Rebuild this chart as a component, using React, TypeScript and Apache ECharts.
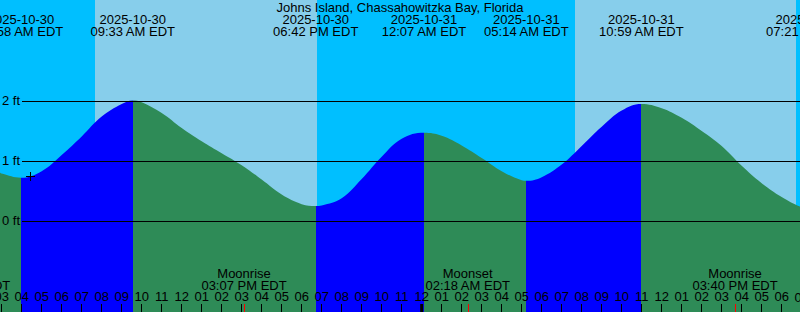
import { useEffect, useRef } from 'react';
import * as echarts from 'echarts';

const TITLE = 'Johns Island, Chassahowitzka Bay, Florida';
const FONT = '"Liberation Sans", Arial, Helvetica, sans-serif';

// time axis: hours since 2025-10-30 00:00 EDT
const X_MIN = 2.915;
const X_MAX = 42.915;
const Y_MIN = -1.517;
const Y_MAX = 3.683;

// tide height readings (ft) at times (hours)
const tideHours = [2.915, 3, 5, 6, 7, 8, 9, 10, 11, 12, 13, 14, 15, 16, 17, 18, 19, 20, 21, 22, 23, 25, 26, 27, 28, 29, 30, 31, 32, 33, 34, 36, 37, 38, 39, 40, 41, 42, 42.915];
const tideFeet = [0.81, 0.79, 0.83, 1.1, 1.41, 1.74, 1.95, 1.98, 1.8, 1.55, 1.33, 1.13, 0.93, 0.69, 0.44, 0.28, 0.26, 0.38, 0.7, 1.07, 1.37, 1.42, 1.26, 1.05, 0.83, 0.68, 0.73, 0.94, 1.25, 1.57, 1.84, 1.88, 1.72, 1.5, 1.25, 0.92, 0.63, 0.4, 0.24];

// high / low tides
const extremeHours = [3.967, 9.55, 18.7, 24.117, 29.233, 34.983, 43.35];
const extremeFeet = [0.72, 2.01, 0.25, 1.47, 0.67, 1.95, 0.2];
const extremeDates = ['2025-10-30', '2025-10-30', '2025-10-30', '2025-10-31', '2025-10-31', '2025-10-31', '2025-10-31'];
const extremeTimes = ['03:58 AM EDT', '09:33 AM EDT', '06:42 PM EDT', '12:07 AM EDT', '05:14 AM EDT', '10:59 AM EDT', '07:21 PM EDT'];

// sun
const sunriseHours = [7.665, 31.665];
const sunsetHours = [18.765, 42.715];

// moon
const moonHours = [1.315, 15.117, 26.3, 39.667];
const moonEvents = ['Moonset', 'Moonrise', 'Moonset', 'Moonrise'];
const moonTimes = ['01:19 AM EDT', '03:07 PM EDT', '02:18 AM EDT', '03:40 PM EDT'];

const midnightHours = [24];
const hourTicks = [3, 4, 5, 6, 7, 8, 9, 10, 11, 12, 13, 14, 15, 16, 17, 18, 19, 20, 21, 22, 23, 24, 25, 26, 27, 28, 29, 30, 31, 32, 33, 34, 35, 36, 37, 38, 39, 40, 41, 42];
const edgeHourLabels = [43];
const feetTicks = [0, 1, 2];
const nowHour = 4.43;
const nowFeet = 0.745;

const NIGHT = '#00BFFF';
const DAY = '#87CEEB';
const RISING = '#0000FF';
const FALLING = '#2E8B57';

function txt(x: number, y: number, text: string) {
  return {
    type: 'text',
    x,
    y,
    style: { text, fill: '#000', font: `13px ${FONT}`, align: 'center', verticalAlign: 'middle' },
  };
}

const pad = (v: number) => (v < 10 ? '0' + v : '' + v);
const hourLabel = (v: number) => {
  const h = ((Math.round(v) % 24) + 24) % 24;
  const h12 = h % 12 === 0 ? 12 : h % 12;
  return pad(h12);
};

function buildOption() {
  const pts: number[][] = [];
  tideHours.forEach((h, i) => pts.push([h, tideFeet[i]]));
  extremeHours.forEach((h, i) => pts.push([h, extremeFeet[i]]));
  pts.sort((a, b) => a[0] - b[0]);

  const sunEv = [
    ...sunriseHours.map((h) => ({ h, day: true })),
    ...sunsetHours.map((h) => ({ h, day: false })),
  ].sort((a, b) => a.h - b.h);
  const bands: any[] = [];
  let start = X_MIN;
  let isDay = !sunEv[0].day;
  sunEv.forEach((e) => {
    bands.push([{ xAxis: start, itemStyle: { color: isDay ? DAY : NIGHT, opacity: 1 } }, { xAxis: e.h }]);
    start = e.h;
    isDay = e.day;
  });
  bands.push([{ xAxis: start, itemStyle: { color: isDay ? DAY : NIGHT, opacity: 1 } }, { xAxis: X_MAX }]);

  const pieces: any[] = [];
  const firstRising = extremeFeet[0] > extremeFeet[1];
  pieces.push({ lt: extremeHours[0], color: firstRising ? RISING : FALLING });
  for (let i = 0; i < extremeHours.length - 1; i++) {
    const rising = extremeFeet[i + 1] > extremeFeet[i];
    pieces.push({ gte: extremeHours[i], lt: extremeHours[i + 1], color: rising ? RISING : FALLING });
  }
  const n = extremeHours.length;
  pieces.push({ gte: extremeHours[n - 1], color: extremeFeet[n - 1] < extremeFeet[n - 2] ? RISING : FALLING });

  return {
    animation: false,
    backgroundColor: NIGHT,
    title: {
      text: TITLE,
      left: 'center',
      top: 1,
      padding: 0,
      textStyle: { fontSize: 13, fontWeight: 'normal', color: '#000', fontFamily: FONT },
    },
    grid: { left: 0, right: 0, top: 0, bottom: 0, outerBoundsMode: 'none', containLabel: false },
    xAxis: {
      type: 'value',
      position: 'bottom',
      min: X_MIN,
      max: X_MAX,
      z: 10,
      axisLine: { show: false, onZero: false },
      splitLine: { show: false },
      axisTick: { show: true, inside: true, length: 8, customValues: hourTicks, lineStyle: { color: '#000', width: 1 } },
      axisLabel: {
        inside: true,
        margin: 9,
        customValues: hourTicks,
        color: '#000',
        fontSize: 13,
        fontFamily: FONT,
        hideOverlap: false,
        formatter: hourLabel,
      },
    },
    yAxis: {
      type: 'value',
      min: Y_MIN,
      max: Y_MAX,
      z: 10,
      axisLine: { show: false, onZero: false },
      axisTick: { show: false },
      splitLine: { show: false },
      axisLabel: {
        inside: true,
        margin: 2,
        customValues: feetTicks,
        color: '#000',
        fontSize: 13,
        fontFamily: FONT,
        formatter: (v: number) => `${v} ft`,
      },
    },
    visualMap: {
      type: 'piecewise',
      show: false,
      dimension: 0,
      seriesIndex: 1,
      pieces,
    },
    series: [
      {
        type: 'line',
        data: [],
        silent: true,
        z: 0,
        markArea: { silent: true, data: bands },
      },
      {
        type: 'line',
        data: pts,
        smooth: 0.4,
        showSymbol: false,
        silent: true,
        z: 2,
        lineStyle: { width: 0 },
        areaStyle: { opacity: 1, origin: 'start' },
      },
      {
        type: 'custom',
        z: 4,
        silent: true,
        data: feetTicks.map((v) => [X_MIN, v]),
        renderItem: (params: any, api: any) => {
          const p = api.coord([X_MIN, api.value(1)]);
          const cs = params.coordSys;
          const y = Math.round(p[1]) + 0.5;
          return { type: 'line', shape: { x1: 22, y1: y, x2: cs.x + cs.width, y2: y }, style: { stroke: '#000', lineWidth: 1 } };
        },
      },
      {
        type: 'custom',
        z: 5,
        silent: true,
        data: extremeHours.map((h, i) => [h, extremeFeet[i]]),
        renderItem: (params: any, api: any) => {
          const p = api.coord([api.value(0), api.value(1)]);
          const i = params.dataIndex;
          return { type: 'group', children: [txt(p[0], 19.5, extremeDates[i]), txt(p[0], 31.3, extremeTimes[i])] };
        },
      },
      {
        type: 'custom',
        z: 12,
        silent: true,
        data: moonHours.map((h) => [h, Y_MIN]),
        renderItem: (params: any, api: any) => {
          const p = api.coord([api.value(0), api.value(1)]);
          const i = params.dataIndex;
          const x = Math.round(p[0]) + 0.5;
          return {
            type: 'group',
            children: [
              txt(p[0], 273.8, moonEvents[i]),
              txt(p[0], 285.5, moonTimes[i]),
              { type: 'line', shape: { x1: x, y1: p[1] - 8, x2: x, y2: p[1] }, style: { stroke: '#FF0000', lineWidth: 1 } },
            ],
          };
        },
      },
      {
        type: 'custom',
        z: 12,
        silent: true,
        data: midnightHours.map((h) => [h, Y_MIN]),
        renderItem: (params: any, api: any) => {
          const p = api.coord([api.value(0), api.value(1)]);
          return { type: 'line', shape: { x1: p[0], y1: p[1] - 8, x2: p[0], y2: p[1] }, style: { stroke: '#000', lineWidth: 3 } };
        },
      },
      {
        type: 'custom',
        z: 12,
        silent: true,
        data: edgeHourLabels.map((h) => [h, Y_MIN]),
        renderItem: (params: any, api: any) => {
          const p = api.coord([api.value(0), api.value(1)]);
          return txt(p[0], 297.2, hourLabel(api.value(0)));
        },
      },
      {
        type: 'custom',
        z: 6,
        silent: true,
        data: [[nowHour, nowFeet]],
        renderItem: (params: any, api: any) => {
          const p = api.coord([api.value(0), api.value(1)]);
          const x = Math.round(p[0]) + 0.5;
          const y = Math.round(p[1]) + 0.5;
          return {
            type: 'group',
            children: [
              { type: 'line', shape: { x1: x - 4.5, y1: y, x2: x + 4.5, y2: y }, style: { stroke: '#000', lineWidth: 1 } },
              { type: 'line', shape: { x1: x, y1: y - 4.5, x2: x, y2: y + 4.5 }, style: { stroke: '#000', lineWidth: 1 } },
            ],
          };
        },
      },
    ],
  };
}

export default function App() {
  const ref = useRef<HTMLDivElement>(null);
  useEffect(() => {
    document.body.style.margin = '0';
    if (!ref.current) return;
    const chart = echarts.init(ref.current, undefined, { renderer: 'svg' });
    chart.setOption(buildOption() as any);
    return () => chart.dispose();
  }, []);
  return <div ref={ref} style={{ width: 800, height: 312 }} />;
}
